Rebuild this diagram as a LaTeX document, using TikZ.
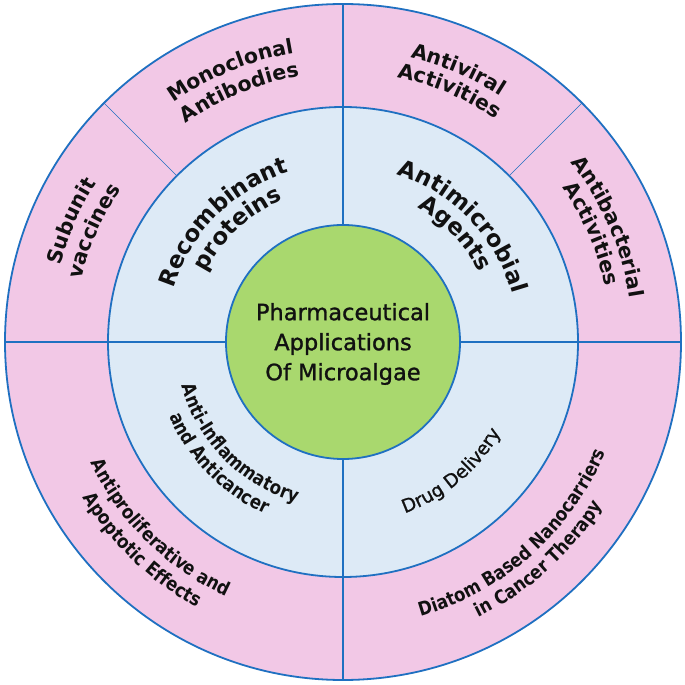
\documentclass[tikz,border=0pt]{standalone}
\usepackage{fontspec}
\setmainfont{DejaVu Sans}
\newfontfamily\condfont[FakeStretch=0.87]{DejaVu Sans}
\newfontfamily\medfont[FakeBold=1.2]{DejaVu Sans}
\usetikzlibrary{decorations.text}
\definecolor{lineblue}{RGB}{31,112,193}
\definecolor{pinkfill}{RGB}{242,200,230}
\definecolor{bluefill}{RGB}{221,234,246}
\definecolor{greenfill}{RGB}{169,216,110}
\definecolor{txt}{RGB}{17,17,17}
\newcommand\fOutB{\bfseries\fontsize{20.5}{22}\selectfont}
\newcommand\fOutL{\condfont\bfseries\fontsize{19}{20}\selectfont}
\newcommand\fInB{\bfseries\fontsize{23}{24}\selectfont}
\newcommand\fInL{\condfont\bfseries\fontsize{19}{20}\selectfont}
\newcommand\fDrug{\medfont\fontsize{18.5}{19}\selectfont}
% clockwise arc text: tops outward
\newcommand\cwlabel[4]{%
  \pgfmathsetmacro\myAs{#2+70}\pgfmathsetmacro\myAe{#2-70}%
  \path[decorate,decoration={text along path,text align=center,text color=txt,text={|#4|#3}}]
    (\myAs:#1) arc[start angle=\myAs,end angle=\myAe,radius=#1];}
% counterclockwise arc text: tops inward
\newcommand\ccwlabel[4]{%
  \pgfmathsetmacro\myAs{#2-70}\pgfmathsetmacro\myAe{#2+70}%
  \path[decorate,decoration={text along path,text align=center,text color=txt,text={|#4|#3}}]
    (\myAs:#1) arc[start angle=\myAs,end angle=\myAe,radius=#1];}
\begin{document}
\begin{tikzpicture}[x=1pt,y=1pt,
  ring/.style={draw=lineblue,line width=1.8pt},
  divider/.style={draw=lineblue,line width=1.8pt},
  thindiv/.style={draw=lineblue,line width=0.5pt}]
\useasboundingbox (-343,-343) rectangle (342,342);
\fill[white] (-343,-343) rectangle (342,342);
\coordinate (C) at (0,0);
\filldraw[ring,fill=pinkfill] (C) circle[radius=338];
\filldraw[ring,fill=bluefill] (C) circle[radius=235];
\draw[thindiv] (135:235) -- (135:338);
\draw[thindiv] (45:235) -- (45:338);
\foreach \a in {0,90,180,270} \draw[divider] (\a:116) -- (\a:337);
\filldraw[ring,fill=greenfill] (C) circle[radius=117];
\node[align=center,text=txt,font=\medfont\fontsize{22.5}{30}\selectfont] (center) at (0,-2) {Pharmaceutical\\Applications\\Of Microalgae};
% outer ring, upper
\cwlabel{293}{112.5}{Monoclonal}{\fOutB}
\cwlabel{269}{112.5}{Antibodies}{\fOutB}
\cwlabel{292}{67}{Antiviral}{\fOutB}
\cwlabel{270}{67}{Activities}{\fOutB}
\cwlabel{293}{156}{Subunit}{\fOutB}
\cwlabel{269}{156}{vaccines}{\fOutB}
\cwlabel{290}{23.5}{Antibacterial}{\fOutB}
\cwlabel{268}{23.5}{Activities}{\fOutB}
% outer ring, lower
\ccwlabel{280}{225.5}{Antiproliferative and}{\fOutL}
\ccwlabel{303}{226}{Apoptotic Effects}{\fOutL}
\ccwlabel{285}{-48.5}{Diatom Based Nanocarriers}{\fOutL}
\ccwlabel{307}{-48}{in Cancer Therapy}{\fOutL}
% inner ring
\cwlabel{178}{135}{Recombinant}{\fInB}
\cwlabel{154}{133}{proteins}{\fInB}
\cwlabel{176}{44}{Antimicrobial}{\fInB}
\cwlabel{153}{44}{Agents}{\fInB}
\ccwlabel{167}{224.5}{Anti-Inflammatory}{\fInL}
\ccwlabel{189}{224.5}{and Anticancer}{\fInL}
\ccwlabel{182}{-50}{Drug Delivery}{\fDrug}
\end{tikzpicture}
\end{document}
